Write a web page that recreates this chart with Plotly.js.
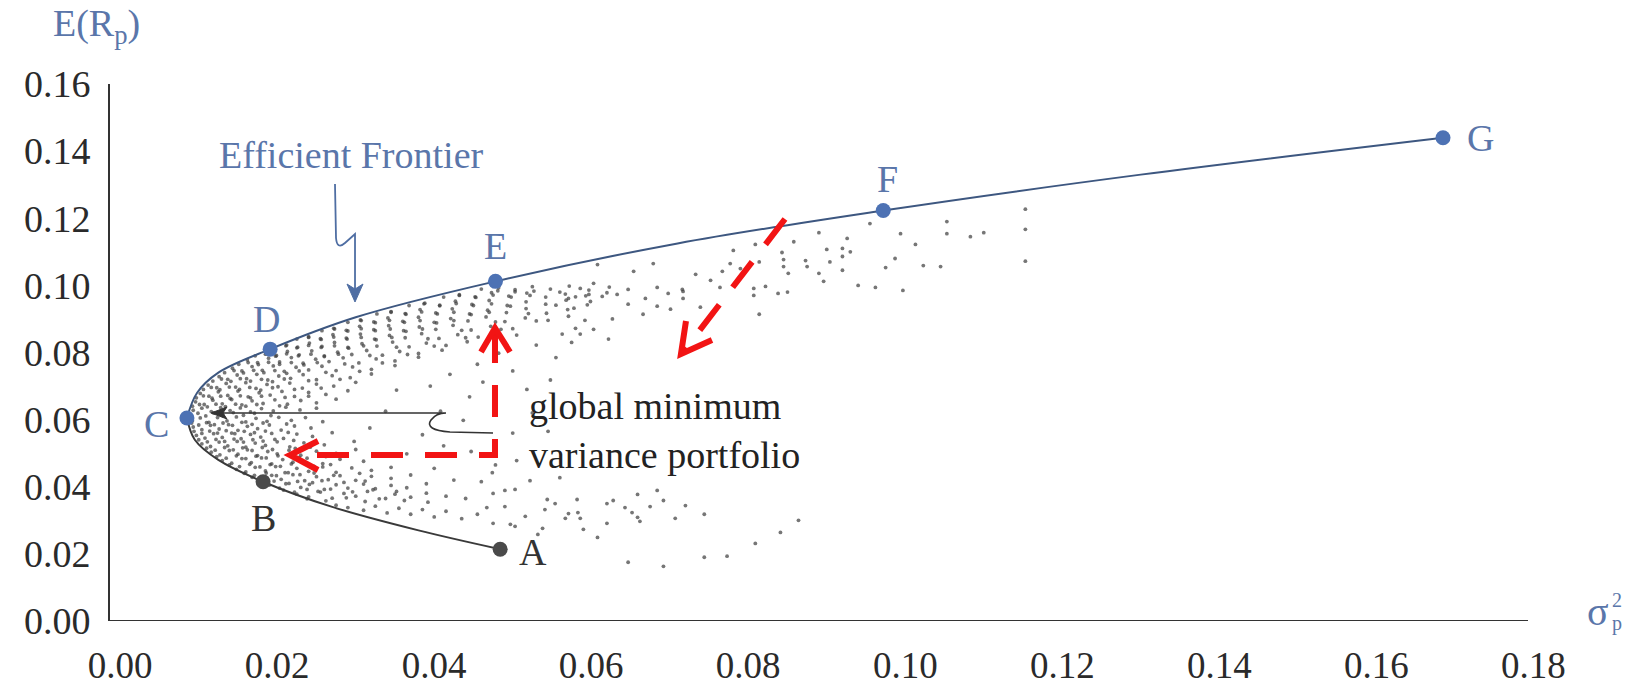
<!DOCTYPE html>
<html><head><meta charset="utf-8">
<script src="https://cdn.plot.ly/plotly-3.0.1.min.js"></script>
<style>html,body{margin:0;padding:0;background:#fff}#chart{width:1634px;height:691px}</style>
</head><body><div id="chart"></div>
<script>
// ---------- data ----------
const xTickVals = [0, 0.02, 0.04, 0.06, 0.08, 0.10, 0.12, 0.14, 0.16, 0.18];
const xTickText = ['0.00','0.02','0.04','0.06','0.08','0.10','0.12','0.14','0.16','0.18'];
const yTickVals = [0, 0.02, 0.04, 0.06, 0.08, 0.10, 0.12, 0.14, 0.16];
const yTickText = ['0.00','0.02','0.04','0.06','0.08','0.10','0.12','0.14','0.16'];

const pointNames = ['A','B','C','D','E','F','G'];
const pointX = [0.0484, 0.0182, 0.0085, 0.0191, 0.0478, 0.0972, 0.1685];
const pointY = [0.0214, 0.0415, 0.0605, 0.0810, 0.1012, 0.1223, 0.1440];

// lower (inefficient) branch C -> A
const lowerX = [0.0085, 0.0095, 0.0125, 0.0182, 0.0270, 0.0380, 0.0484];
const lowerY = [0.0605, 0.0540, 0.0480, 0.0415, 0.0340, 0.0270, 0.0214];
// efficient frontier C -> G
const upperX = [0.0085, 0.0098, 0.0125, 0.0191, 0.0300, 0.0478, 0.0710, 0.0972, 0.1300, 0.1685];
const upperY = [0.0605, 0.0680, 0.0740, 0.0810, 0.0905, 0.1012, 0.1125, 0.1223, 0.1330, 0.1440];

// portfolio cloud, [variance, return]
const cloudDense = [
[0.0275,0.0345],[0.029,0.0338],[0.031,0.0330],[0.0325,0.0342],[0.034,0.0322],[0.0355,0.0336],[0.037,0.0318],[0.0385,0.0332],[0.040,0.031],[0.0415,0.0327],[0.0435,0.0305],[0.0455,0.0318],
[0.0225,0.0378],[0.024,0.0370],[0.0255,0.0384],[0.027,0.0366],[0.0285,0.0380],[0.030,0.0372],[0.0315,0.0386],[0.033,0.0364],[0.035,0.0378],[0.037,0.0369],[0.039,0.0381],[0.0415,0.0372],[0.044,0.0365],
[0.019,0.0405],[0.0203,0.0396],[0.0215,0.0410],[0.023,0.0398],[0.0245,0.0412],[0.026,0.0392],[0.0275,0.0406],[0.029,0.0396],[0.031,0.0408],[0.0325,0.0394],[0.0345,0.0404],[0.0365,0.0397],[0.039,0.0409],
[0.0168,0.0428],[0.018,0.0420],[0.0193,0.0434],[0.0205,0.0422],[0.022,0.0436],[0.0235,0.0418],[0.025,0.0430],[0.0265,0.0421],[0.028,0.0433],[0.030,0.0419],[0.032,0.0431],[0.0345,0.0425],[0.037,0.0435],
[0.0148,0.0452],[0.016,0.0444],[0.0172,0.0458],[0.0185,0.0447],[0.0198,0.0460],[0.021,0.0442],[0.0225,0.0455],[0.024,0.0446],[0.0258,0.0459],[0.0275,0.0443],[0.0295,0.0456],[0.032,0.0449],[0.0345,0.0458],
[0.013,0.0478],[0.0142,0.0470],[0.0155,0.0484],[0.0167,0.0472],[0.018,0.0486],[0.0193,0.0468],[0.0207,0.0481],[0.022,0.0473],[0.0238,0.0485],[0.0258,0.0469],[0.028,0.0482],[0.031,0.0476],
[0.0116,0.0503],[0.0127,0.0495],[0.0139,0.0508],[0.015,0.0497],[0.0162,0.0510],[0.0175,0.0493],[0.0188,0.0505],[0.020,0.0498],[0.0215,0.0509],[0.023,0.0494],[0.025,0.0506],[0.0275,0.0499],[0.030,0.0511],
[0.0104,0.0528],[0.0115,0.0520],[0.0126,0.0533],[0.0137,0.0522],[0.0149,0.0535],[0.016,0.0518],[0.0172,0.0530],[0.0185,0.0523],[0.020,0.0534],[0.0216,0.0519],[0.0234,0.0531],[0.026,0.0525],
[0.0097,0.0553],[0.0108,0.0545],[0.0119,0.0558],[0.013,0.0547],[0.0142,0.0560],[0.0154,0.0543],[0.0166,0.0556],[0.0179,0.0548],[0.0193,0.0559],[0.0208,0.0544],[0.0225,0.0557],[0.0245,0.0550],[0.027,0.0561],
[0.0093,0.0578],[0.0104,0.0570],[0.0115,0.0583],[0.0126,0.0572],[0.0138,0.0585],[0.015,0.0568],[0.0162,0.0580],[0.0175,0.0573],[0.019,0.0584],[0.0205,0.0569],[0.0222,0.0581],[0.0243,0.0575],
[0.0092,0.0597],[0.0102,0.0605],[0.0113,0.0592],[0.0124,0.0606],[0.0136,0.0596],[0.0148,0.0608],[0.016,0.0593],[0.0173,0.0604],[0.0187,0.0595],[0.0202,0.0607],[0.0218,0.0598],[0.0236,0.0606],[0.0258,0.0594],
[0.0093,0.0628],[0.0104,0.0634],[0.0116,0.0624],[0.0128,0.0636],[0.014,0.0627],[0.0153,0.0635],[0.0166,0.0623],[0.018,0.0633],[0.0195,0.0626],[0.0211,0.0637],[0.0229,0.0629],[0.025,0.0634],
[0.0096,0.0653],[0.0107,0.0645],[0.0118,0.0658],[0.013,0.0647],[0.0142,0.0660],[0.0155,0.0644],[0.0168,0.0656],[0.0182,0.0648],[0.0197,0.0659],[0.0213,0.0646],[0.023,0.0657],[0.025,0.0650],[0.0275,0.0661],
[0.0102,0.0678],[0.0113,0.0670],[0.0125,0.0683],[0.0137,0.0672],[0.015,0.0685],[0.0163,0.0668],[0.0177,0.0680],[0.0191,0.0673],[0.0206,0.0684],[0.0222,0.0669],[0.024,0.0681],[0.0262,0.0675],[0.029,0.0686],
[0.0112,0.0703],[0.0123,0.0695],[0.0135,0.0708],[0.0147,0.0697],[0.016,0.0710],[0.0173,0.0693],[0.0187,0.0705],[0.0201,0.0698],[0.0216,0.0709],[0.0232,0.0694],[0.025,0.0706],[0.0272,0.0700],[0.030,0.0711],
[0.0126,0.0728],[0.0137,0.0720],[0.0149,0.0733],[0.0161,0.0722],[0.0174,0.0735],[0.0188,0.0718],[0.0202,0.0730],[0.0217,0.0723],[0.0233,0.0734],[0.025,0.0719],[0.027,0.0731],[0.0293,0.0725],[0.032,0.0736],
[0.0143,0.0753],[0.0155,0.0745],[0.0168,0.0758],[0.0181,0.0747],[0.0195,0.0760],[0.0209,0.0744],[0.0224,0.0756],[0.024,0.0748],[0.0257,0.0759],[0.0275,0.0746],[0.0296,0.0757],[0.032,0.0750],[0.035,0.0761],
[0.0162,0.0778],[0.0175,0.0770],[0.0189,0.0783],[0.0203,0.0772],[0.0218,0.0785],[0.0233,0.0768],[0.0249,0.0780],[0.0266,0.0773],[0.0284,0.0784],[0.0304,0.0769],[0.0326,0.0781],[0.035,0.0775],[0.038,0.0786],
[0.0186,0.0797],[0.0199,0.0791],[0.0213,0.0803],[0.0228,0.0793],[0.0244,0.0805],[0.026,0.0790],[0.0277,0.0801],[0.0295,0.0794],[0.0314,0.0806],[0.0334,0.0792],[0.0356,0.0803],[0.038,0.0797],[0.041,0.0807],
[0.0212,0.0822],[0.0226,0.0816],[0.0241,0.0828],[0.0257,0.0818],[0.0273,0.0830],[0.029,0.0815],[0.0308,0.0826],[0.0327,0.0819],[0.0347,0.0831],[0.0368,0.0817],[0.039,0.0828],[0.0415,0.0821],[0.0442,0.0832],
[0.024,0.0847],[0.0255,0.0841],[0.0271,0.0853],[0.0288,0.0843],[0.0306,0.0855],[0.0324,0.0840],[0.0343,0.0851],[0.0363,0.0844],[0.0384,0.0856],[0.0406,0.0842],[0.043,0.0853],[0.0456,0.0846],
[0.0272,0.0872],[0.0288,0.0866],[0.0305,0.0878],[0.0323,0.0868],[0.0342,0.0880],[0.0361,0.0865],[0.0381,0.0876],[0.0402,0.0869],[0.0424,0.0881],[0.0447,0.0867],[0.0472,0.0878],[0.050,0.0871],
[0.0306,0.0897],[0.0323,0.0891],[0.0341,0.0903],[0.036,0.0893],[0.038,0.0905],[0.040,0.0890],[0.0421,0.0901],[0.0443,0.0894],[0.0466,0.0906],[0.049,0.0892],[0.0516,0.0903],[0.0545,0.0896],
[0.0345,0.0922],[0.0363,0.0916],[0.0382,0.0928],[0.0402,0.0918],[0.0423,0.0930],[0.0445,0.0915],[0.0468,0.0926],[0.0492,0.0919],[0.0517,0.0931],[0.0543,0.0917],[0.057,0.0928],
[0.0388,0.0947],[0.0407,0.0941],[0.0427,0.0953],[0.0448,0.0943],[0.047,0.0955],[0.0493,0.0940],[0.0517,0.0951],[0.0542,0.0944],[0.0568,0.0956],[0.0595,0.0942],
[0.0432,0.0972],[0.0452,0.0966],[0.0473,0.0978],[0.0495,0.0968],[0.0518,0.0977],[0.0542,0.0965],[0.0567,0.0974],[0.0593,0.0969],[0.062,0.0978],
[0.0482,0.0993],[0.0503,0.0987],[0.0525,0.0996],[0.0548,0.0989],[0.0572,0.0998],[0.0597,0.0986],[0.0623,0.0995]
];
const cloudDense2 = [
[0.0238,0.0364],[0.0262,0.0358],[0.0288,0.0367],[0.0312,0.0356],[0.0338,0.0365],[0.0362,0.0359],[0.0392,0.0354],
[0.0208,0.0390],[0.0222,0.0384],[0.0238,0.0392],[0.0252,0.0386],[0.0268,0.0393],[0.0296,0.0385],[0.0322,0.0391],[0.0352,0.0386],
[0.0181,0.0414],[0.0196,0.0417],[0.0211,0.0409],[0.0226,0.0416],[0.0241,0.0407],[0.0257,0.0418],[0.0285,0.0413],[0.0312,0.0417],
[0.0158,0.0440],[0.0171,0.0434],[0.0186,0.0441],[0.0199,0.0433],[0.0214,0.0442],[0.0229,0.0436],[0.0247,0.0441],[0.0272,0.0434],[0.0305,0.0440],
[0.0139,0.0465],[0.0152,0.0460],[0.0165,0.0467],[0.0178,0.0459],[0.0191,0.0466],[0.0204,0.0461],[0.0218,0.0468],[0.0247,0.0461],[0.0268,0.0466],
[0.0123,0.0490],[0.0135,0.0485],[0.0148,0.0492],[0.0160,0.0484],[0.0173,0.0491],[0.0186,0.0486],[0.0201,0.0492],[0.0228,0.0487],[0.0262,0.0490],
[0.0110,0.0515],[0.0121,0.0509],[0.0133,0.0517],[0.0144,0.0510],[0.0156,0.0516],[0.0168,0.0508],[0.0181,0.0517],[0.0194,0.0511],[0.0223,0.0514],[0.0242,0.0518],
[0.0100,0.0540],[0.0111,0.0534],[0.0122,0.0541],[0.0133,0.0535],[0.0145,0.0542],[0.0157,0.0533],[0.0169,0.0540],[0.0182,0.0536],[0.0197,0.0541],[0.0221,0.0538],
[0.0094,0.0565],[0.0104,0.0559],[0.0114,0.0566],[0.0124,0.0560],[0.0135,0.0567],[0.0146,0.0558],[0.0158,0.0565],[0.0171,0.0561],[0.0185,0.0566],[0.0214,0.0562],
[0.0091,0.0590],[0.0100,0.0584],[0.0110,0.0591],[0.0120,0.0585],[0.0131,0.0590],[0.0143,0.0583],[0.0155,0.0592],[0.0168,0.0586],[0.0182,0.0590],[0.0212,0.0587],
[0.0090,0.0612],[0.0099,0.0619],[0.0109,0.0611],[0.0119,0.0620],[0.0131,0.0612],[0.0144,0.0621],[0.0157,0.0613],[0.0171,0.0619],[0.0192,0.0612],
[0.0092,0.0640],[0.0101,0.0645],[0.0111,0.0638],[0.0122,0.0646],[0.0134,0.0639],[0.0147,0.0646],[0.0160,0.0640],[0.0174,0.0645],[0.0203,0.0641],
[0.0097,0.0665],[0.0106,0.0671],[0.0117,0.0664],[0.0128,0.0670],[0.0140,0.0663],[0.0153,0.0671],[0.0166,0.0665],[0.0180,0.0670],[0.0210,0.0666],[0.0240,0.0670],
[0.0106,0.0690],[0.0116,0.0696],[0.0127,0.0689],[0.0139,0.0697],[0.0152,0.0690],[0.0165,0.0696],[0.0179,0.0688],[0.0194,0.0695],[0.0222,0.0690],[0.0256,0.0694],
[0.0118,0.0715],[0.0129,0.0721],[0.0141,0.0714],[0.0153,0.0722],[0.0166,0.0715],[0.0180,0.0720],[0.0194,0.0713],[0.0209,0.0721],[0.0240,0.0716],[0.0280,0.0720],
[0.0133,0.0740],[0.0145,0.0746],[0.0157,0.0739],[0.0170,0.0747],[0.0183,0.0740],[0.0197,0.0746],[0.0212,0.0738],[0.0228,0.0745],[0.0262,0.0741],[0.0305,0.0744],
[0.0151,0.0765],[0.0163,0.0770],[0.0176,0.0764],[0.0189,0.0771],[0.0203,0.0765],[0.0218,0.0770],[0.0234,0.0763],[0.0251,0.0770],[0.0286,0.0766],[0.0334,0.0769],
[0.0172,0.0790],[0.0185,0.0795],[0.0198,0.0789],[0.0212,0.0796],[0.0227,0.0790],[0.0243,0.0795],[0.0260,0.0788],[0.0278,0.0795],[0.0318,0.0791],[0.0366,0.0794],
[0.0197,0.0815],[0.0211,0.0820],[0.0225,0.0814],[0.0240,0.0821],[0.0256,0.0815],[0.0273,0.0820],[0.0291,0.0813],[0.0310,0.0820],[0.0352,0.0816],[0.0400,0.0819],
[0.0225,0.0840],[0.0240,0.0845],[0.0256,0.0839],[0.0272,0.0846],[0.0289,0.0840],[0.0307,0.0845],[0.0326,0.0838],[0.0346,0.0845],[0.0392,0.0841],[0.0440,0.0844],
[0.0257,0.0865],[0.0273,0.0870],[0.0290,0.0864],[0.0307,0.0871],[0.0325,0.0865],[0.0344,0.0870],[0.0364,0.0863],[0.0385,0.0870],[0.0435,0.0866],[0.0485,0.0869],
[0.0290,0.0890],[0.0307,0.0895],[0.0325,0.0889],[0.0343,0.0896],[0.0362,0.0890],[0.0382,0.0895],[0.0403,0.0888],[0.0425,0.0895],[0.0478,0.0891],[0.0530,0.0894],
[0.0327,0.0915],[0.0345,0.0920],[0.0364,0.0914],[0.0384,0.0921],[0.0404,0.0915],[0.0425,0.0920],[0.0447,0.0913],[0.0470,0.0920],[0.0520,0.0916],
[0.0368,0.0940],[0.0387,0.0945],[0.0407,0.0939],[0.0428,0.0946],[0.0450,0.0940],[0.0473,0.0945],[0.0497,0.0938],[0.0555,0.0941],
[0.0412,0.0965],[0.0432,0.0970],[0.0453,0.0964],[0.0475,0.0971],[0.0498,0.0965],[0.0522,0.0970],[0.0580,0.0966],
[0.0460,0.0989],[0.0481,0.0984],[0.0503,0.0981],[0.0527,0.0983],[0.0560,0.0980]
];
const cloudMid = [
[0.0395,0.0700],[0.042,0.0735],[0.0445,0.0668],[0.0408,0.0625],[0.0437,0.0598],[0.0462,0.0712],[0.0478,0.0650],[0.0385,0.0555],
[0.0412,0.0522],[0.0447,0.0505],[0.0365,0.0498],[0.0338,0.0625],[0.0352,0.0688],[0.0318,0.0575],[0.0298,0.0535],[0.0455,0.0765],
[0.0482,0.0798],[0.050,0.0745],[0.0518,0.0690],[0.053,0.0822],[0.0505,0.0852],[0.0555,0.0785],[0.0575,0.0830],[0.0548,0.0718],
[0.0525,0.0620],[0.0545,0.0565],[0.050,0.0560],[0.0478,0.0465],[0.0505,0.0478],[0.040,0.0455],[0.0425,0.0420],[0.046,0.0415]
];
const cloudUpperRight = [
[0.1053,0.119],[0.1053,0.1154],[0.1083,0.1145],[0.110,0.1157],[0.0994,0.1154],[0.1013,0.1122],[0.0987,0.108],[0.0975,0.1053],
[0.1023,0.1059],[0.1045,0.1056],[0.0955,0.1184],[0.094,0.100],[0.0962,0.0994],[0.0997,0.0985],[0.0926,0.114],[0.092,0.111],
[0.093,0.110],[0.092,0.1086],[0.092,0.1045],[0.090,0.1107],[0.0904,0.107],[0.089,0.1157],[0.089,0.1036],[0.0896,0.1012],
[0.0873,0.1074],[0.0875,0.1056],[0.0858,0.113],[0.0843,0.1098],[0.0845,0.1077],[0.0845,0.1056],[0.0851,0.1036],[0.0838,0.0976],
[0.085,0.098],[0.0822,0.0997],[0.0814,0.107],[0.0809,0.1122],[0.0807,0.0991],[0.0807,0.097],[0.0814,0.0914],[0.0781,0.1104],
[0.0777,0.1065],[0.079,0.105],[0.0764,0.0994],[0.0767,0.1042],[0.0752,0.1015],[0.0739,0.0935],[0.0733,0.1033],[0.0717,0.0982],
[0.0717,0.0961],[0.0716,0.0988],[0.0701,0.0929],[0.0698,0.0976],[0.0684,0.0994],[0.0684,0.0938],[0.0666,0.0914],[0.0669,0.0961],
[0.0679,0.1065],[0.0654,0.1042],[0.0647,0.0988],[0.0647,0.0944],[0.0633,0.0973],[0.0627,0.090],[0.0622,0.084],[0.0614,0.0967],
[0.0603,0.1006],[0.0603,0.0869],[0.0608,0.1062],[0.0597,0.0973],[0.0599,0.0952],[0.0592,0.0896],[0.0586,0.0991],[0.0578,0.0932],
[0.0571,0.0961],[0.0571,0.0908],[0.058,0.0872],[0.0586,0.0855],[0.0563,0.0855],[0.1153,0.1227],[0.1153,0.1167],[0.1153,0.1072]
];
const cloudLowerRight = [
[0.0474,0.0442],[0.0522,0.0418],[0.056,0.0427],[0.0475,0.038],[0.049,0.0389],[0.0503,0.0392],[0.0467,0.0338],[0.049,0.0341],
[0.0516,0.0312],[0.0475,0.0291],[0.0497,0.0288],[0.0503,0.0282],[0.0538,0.0276],[0.0532,0.0258],[0.0544,0.0362],[0.0554,0.035],
[0.0541,0.0332],[0.0582,0.0362],[0.0571,0.032],[0.0567,0.0306],[0.0583,0.0323],[0.0586,0.0306],[0.059,0.0273],[0.0608,0.0249],
[0.062,0.0291],[0.062,0.035],[0.0628,0.0359],[0.0643,0.0338],[0.0652,0.0323],[0.0659,0.0309],[0.0662,0.0297],[0.0659,0.0377],
[0.0675,0.0341],[0.0684,0.0389],[0.0692,0.0359],[0.0707,0.0306],[0.072,0.0344],[0.0744,0.0318],[0.0647,0.0175],[0.0692,0.0163],
[0.0744,0.019],[0.0773,0.0193],[0.0809,0.0231],[0.0841,0.0264],[0.0864,0.030]
];

// ---------- layout geometry ----------
const FONT = 'Liberation Serif, Times New Roman, serif';
const L = 110, T = 84, H = 537;
const PXU = 7848;                       // pixels per unit of variance
const xRange = [-0.0013, 0.1806];
const W = Math.round((xRange[1] - xRange[0]) * PXU);
const yRange = [0, 0.16];
const dx = px => xRange[0] + (px - L) / W * (xRange[1] - xRange[0]);
const dy = py => yRange[1] - (py - T) / H * (yRange[1] - yRange[0]);
const p = (px, py) => dx(px).toFixed(5) + ',' + dy(py).toFixed(5);
const paperX = px => (px - L) / W;
const paperY = py => 1 - (py - T) / H;

const cloud = cloudDense.concat(cloudDense2, cloudMid, cloudUpperRight, cloudLowerRight);

const traces = [
  { x: cloud.map(c => c[0]), y: cloud.map(c => c[1]), mode: 'markers', type: 'scatter',
    marker: { size: 3.8, color: 'rgba(60,60,60,0.7)' }, hoverinfo: 'skip', cliponaxis: false },
  { x: lowerX, y: lowerY, mode: 'lines', type: 'scatter',
    line: { color: '#3a3a3a', width: 2, shape: 'spline', smoothing: 1 }, hoverinfo: 'skip' },
  { x: upperX, y: upperY, mode: 'lines', type: 'scatter',
    line: { color: '#3d5780', width: 2, shape: 'spline', smoothing: 1 }, hoverinfo: 'skip', cliponaxis: false },
  { x: pointX, y: pointY, mode: 'markers', type: 'scatter', text: pointNames,
    marker: { size: 15, color: ['#4a4a4a','#4a4a4a','#4d72b4','#4d72b4','#4d72b4','#4d72b4','#4d72b4'] },
    cliponaxis: false }
];

const BLUE_TXT = '#5a76aa';
const labelShift = { A: [33, -3], B: [0, -36], C: [-30, -6], D: [-4, 30], E: [0, 35], F: [4, 32], G: [37, 0] };
const annotations = pointNames.map((n, i) => ({
  x: pointX[i], y: pointY[i], xref: 'x', yref: 'y', text: n, showarrow: false,
  xanchor: 'center', yanchor: 'middle',
  xshift: labelShift[n][0], yshift: labelShift[n][1],
  font: { family: FONT, size: 38, color: (n === 'A' || n === 'B') ? '#333' : BLUE_TXT }
}));
const paperNote = (px, py, text, size, color, extra) => Object.assign({
  xref: 'paper', yref: 'paper', x: paperX(px), y: paperY(py), text: text, showarrow: false,
  xanchor: 'center', yanchor: 'middle', font: { family: FONT, size: size, color: color }
}, extra || {});
annotations.push(
  paperNote(96, 26, 'E(R<sub>p</sub>)', 38, BLUE_TXT),
  paperNote(1598, 611, 'σ', 40, BLUE_TXT),
  paperNote(1617, 600, '2', 20, BLUE_TXT),
  paperNote(1617, 623, 'p', 20, BLUE_TXT),
  paperNote(351, 155, 'Efficient Frontier', 38, BLUE_TXT),
  paperNote(527, 430, 'global minimum<br>variance portfolio', 38, '#222', { xanchor: 'left', align: 'left' })
);

const RED = '#f21414';
const shapes = [
  // x axis line (ends a little before the 0.18 label)
  { type: 'line', xref: 'x', yref: 'y', x0: xRange[0], x1: dx(1528), y0: 0, y1: 0, line: { color: '#333', width: 2 } },
  // global minimum variance connector (black)
  { type: 'path', xref: 'x', yref: 'y', line: { color: '#333', width: 1.6 },
    path: 'M' + p(493, 433) + ' L' + p(450, 432) + ' Q' + p(424, 430) + ' ' + p(431, 420) + ' Q' + p(436, 413) + ' ' + p(446, 413) + ' L' + p(218, 413) },
  { type: 'path', xref: 'x', yref: 'y', line: { color: '#333', width: 1 }, fillcolor: '#333',
    path: 'M' + p(211, 413) + ' L' + p(227, 407) + ' L' + p(223, 413) + ' L' + p(227, 419) + ' Z' },
  // efficient frontier pointer (blue)
  { type: 'path', xref: 'x', yref: 'y', line: { color: '#4f6ea3', width: 1.8 },
    path: 'M' + p(335, 184) + ' L' + p(336, 238) + ' Q' + p(337, 250) + ' ' + p(345, 243) + ' L' + p(355, 234) + ' L' + p(355, 290) },
  { type: 'path', xref: 'x', yref: 'y', line: { color: '#4f6ea3', width: 1 }, fillcolor: '#4f6ea3',
    path: 'M' + p(355, 302) + ' L' + p(347, 284) + ' L' + p(355, 289) + ' L' + p(363, 284) + ' Z' },
  // red dashed L-arrow
  { type: 'path', xref: 'x', yref: 'y', line: { color: RED, width: 6, dash: '32px,22px' },
    path: 'M' + p(495, 331) + ' L' + p(495, 455) + ' L' + p(292, 455) },
  { type: 'path', xref: 'x', yref: 'y', line: { color: RED, width: 6 },
    path: 'M' + p(481, 352) + ' L' + p(495, 328) + ' L' + p(510, 352) },
  { type: 'path', xref: 'x', yref: 'y', line: { color: RED, width: 6 },
    path: 'M' + p(318, 441) + ' L' + p(290, 455) + ' L' + p(318, 470) },
  // red dashed diagonal arrow
  { type: 'path', xref: 'x', yref: 'y', line: { color: RED, width: 6, dash: '32px,22px' },
    path: 'M' + p(785, 219) + ' L' + p(683, 352) },
  { type: 'path', xref: 'x', yref: 'y', line: { color: RED, width: 6 },
    path: 'M' + p(686, 321) + ' L' + p(681, 354) + ' L' + p(712, 340) }
];

const axisCommon = {
  showgrid: false, zeroline: false, linecolor: '#333', linewidth: 2,
  tickmode: 'array', fixedrange: true
};

const layout = {
  width: 1634, height: 691,
  margin: { l: L, r: 1634 - L - W, t: T, b: 691 - T - H },
  paper_bgcolor: '#fff', plot_bgcolor: '#fff',
  showlegend: false,
  xaxis: Object.assign({}, axisCommon, { showline: false, range: xRange, tickvals: xTickVals, ticktext: xTickText,
    ticks: 'outside', ticklen: 12, tickcolor: 'rgba(0,0,0,0)',
    tickfont: { family: FONT, size: 37, color: '#2a2a2a' } }),
  yaxis: Object.assign({}, axisCommon, { showline: true, range: yRange, tickvals: yTickVals, ticktext: yTickText,
    ticks: '', ticklabelstandoff: 10, tickfont: { family: FONT, size: 38, color: '#2a2a2a' } }),
  annotations: annotations,
  shapes: shapes
};

Plotly.newPlot('chart', traces, layout, { staticPlot: true, displayModeBar: false });
</script></body></html>
